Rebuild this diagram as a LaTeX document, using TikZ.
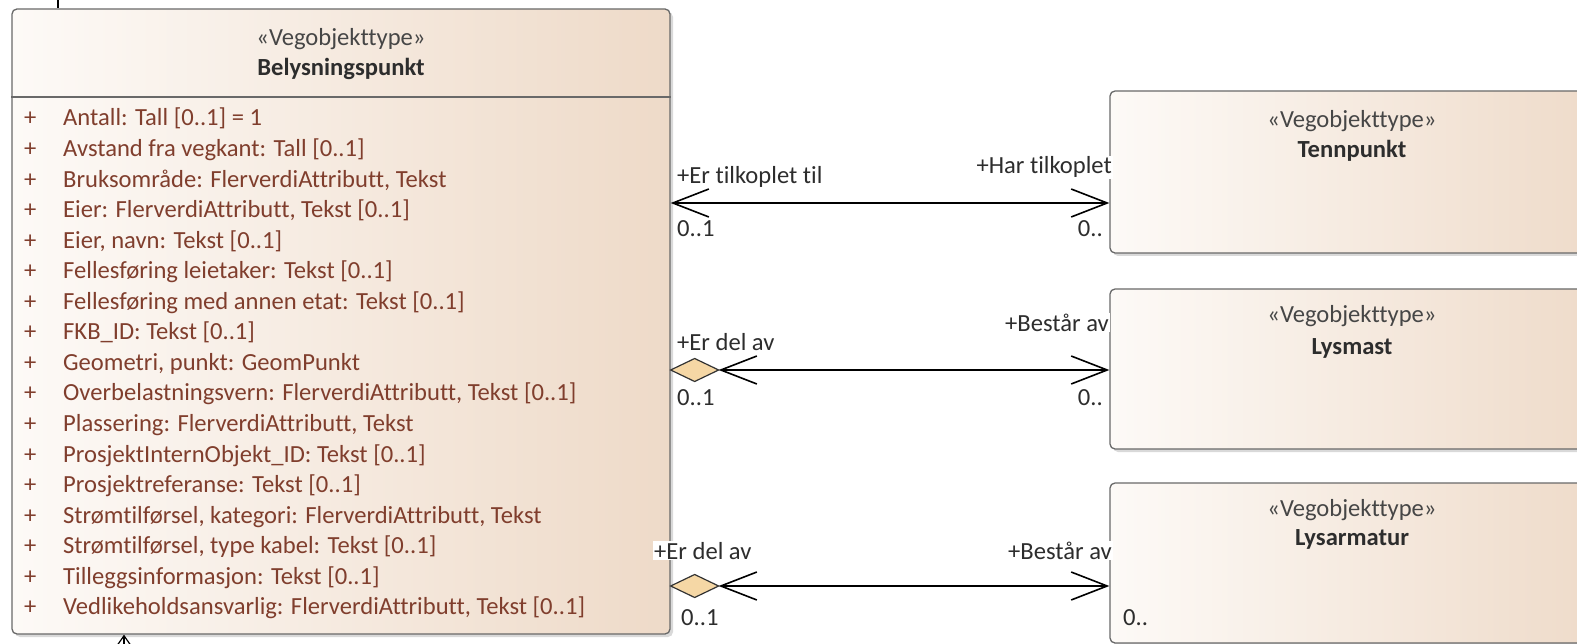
\documentclass[tikz,border=0pt]{standalone}
\usepackage{fontspec}
\setmainfont{Carlito}[Ligatures=NoCommon]
\usetikzlibrary{arrows.meta,shadows}
\definecolor{attr}{RGB}{128,62,45}
\definecolor{hdr}{RGB}{70,70,70}
\definecolor{lbl}{RGB}{45,45,45}
\definecolor{bord}{RGB}{105,105,105}
\definecolor{lite}{RGB}{253,250,247}
\definecolor{tanfill}{RGB}{238,218,200}
\definecolor{diafill}{RGB}{245,215,165}
\begin{document}
\begin{tikzpicture}[x=1pt,y=-1pt,
  umlbox/.style={draw=bord, line width=1.3pt, rounded corners=5pt, inner sep=0pt,
    left color=lite, right color=tanfill,
    drop shadow={shadow xshift=3pt, shadow yshift=-3pt, opacity=0.3, fill=gray}},
  big/.style={font=\fontsize{24.6}{29}\selectfont},
  attrtxt/.style={big, text=attr, inner sep=0pt, anchor=base west},
  stereo/.style={big, text=hdr, inner sep=0pt, anchor=base},
  cname/.style={big, text=lbl, inner sep=0pt, anchor=base, font=\fontsize{24.6}{29}\selectfont\bfseries},
  lab/.style={big, text=lbl, inner sep=1pt},
  barb/.tip={Straight Barb[length=36pt,width=28pt]},
  assoc/.style={draw=black, line width=1.6pt, barb-barb},
  stub/.style={draw=black, line width=1.2pt},
  diam/.style={draw=black!80, line width=1.2pt, fill=diafill, line join=miter}
]
\useasboundingbox (0,0) rectangle (1577,644);

% boxes
\node[umlbox, minimum width=658pt, minimum height=625pt] (main) at (341,321.5) {};
\node[umlbox, minimum width=500pt, minimum height=162pt] (tenn) at (1360,172) {};
\node[umlbox, minimum width=500pt, minimum height=160pt] (mast) at (1360,369) {};
\node[umlbox, minimum width=500pt, minimum height=160pt] (arm) at (1360,563) {};

% header of main box
\coordinate (sep) at (0,97);
\draw[draw=bord, line width=1.3pt] (main.west |- sep) -- (main.east |- sep);
\node[stereo] (mst) at (341,46) {«Vegobjekttype»};
\node[cname] (mnm) at (341,76) {Belysningspunkt};

% attributes
\foreach \t [count=\i] in {
  {Antall: Tall [0..1] = 1},
  {Avstand fra vegkant: Tall [0..1]},
  {Bruksområde: FlerverdiAttributt, Tekst},
  {Eier: FlerverdiAttributt, Tekst [0..1]},
  {Eier, navn: Tekst [0..1]},
  {Fellesføring leietaker: Tekst [0..1]},
  {Fellesføring med annen etat: Tekst [0..1]},
  {FKB\_ID: Tekst [0..1]},
  {Geometri, punkt: GeomPunkt},
  {Overbelastningsvern: FlerverdiAttributt, Tekst [0..1]},
  {Plassering: FlerverdiAttributt, Tekst},
  {ProsjektInternObjekt\_ID: Tekst [0..1]},
  {Prosjektreferanse: Tekst [0..1]},
  {Strømtilførsel, kategori: FlerverdiAttributt, Tekst},
  {Strømtilførsel, type kabel: Tekst [0..1]},
  {Tilleggsinformasjon: Tekst [0..1]},
  {Vedlikeholdsansvarlig: FlerverdiAttributt, Tekst [0..1]}} {
  \node[attrtxt] (p\i) at (24,{126+30.55*(\i-1)}) {+};
  \node[attrtxt] (a\i) at (63,{126+30.55*(\i-1)}) {\t};
}

% right box titles
\node[stereo] (tst) at (1352,128) {«Vegobjekttype»};
\node[cname]  (tnm) at (1352,158) {Tennpunkt};
\node[stereo] (lst) at (1352,323) {«Vegobjekttype»};
\node[cname]  (lnm) at (1352,354) {Lysmast};
\node[stereo] (ast) at (1352,516) {«Vegobjekttype»};
\node[cname]  (anm) at (1352,545) {Lysarmatur};

% connector 1
\coordinate (y1) at (0,203);
\draw[assoc] (main.east |- y1) -- (tenn.west |- y1);
\node[lab, anchor=base west] (r1a) at (676,184) {+Er tilkoplet til};
\node[lab, anchor=base east, fill=white] (r1b) at (1113,174) {+Har tilkoplet};
\node[lab, anchor=base west] (m1a) at (676,237) {0..1};
\node[lab, anchor=base east] (m1b) at (1104,237) {0..};

% connector 2
\coordinate (y2) at (0,370);
\coordinate (d2) at (main.east |- y2);
\draw[diam] (d2) -- ++(24,11.5) -- ++(24,-11.5) -- ++(-24,-11.5) -- cycle;
\coordinate (e2) at ([xshift=48pt]d2);
\draw[assoc] (e2) -- (mast.west |- y2);
\node[lab, anchor=base west] (r2a) at (676,351) {+Er del av};
\node[lab, anchor=base east, fill=white] (r2b) at (1110,331) {+Består av};
\node[lab, anchor=base west] (m2a) at (676,405) {0..1};
\node[lab, anchor=base east] (m2b) at (1104,405) {0..};

% connector 3
\coordinate (y3) at (0,586);
\coordinate (d3) at (main.east |- y3);
\draw[diam] (d3) -- ++(24,11.5) -- ++(24,-11.5) -- ++(-24,-11.5) -- cycle;
\coordinate (e3) at ([xshift=48pt]d3);
\draw[assoc] (e3) -- (arm.west |- y3);
\node[lab, anchor=base west, fill=white] (r3a) at (653,559) {+Er del av};
\node[lab, anchor=base east, fill=white] (r3b) at (1113,559) {+Består av};
\node[lab, anchor=base west] (m3a) at (680,625) {0..1};
\node[lab, anchor=base west] (m3b) at (1122,625) {0..};

% stubs of other connectors at the edges
\coordinate (t1) at (58,0);
\draw[stub] (t1) -- (main.north -| t1);
\coordinate (b1) at (124,644);
\draw[stub, -{Straight Barb[length=10pt,width=14pt]}] (b1) -- (main.south -| b1);
\end{tikzpicture}
\end{document}
